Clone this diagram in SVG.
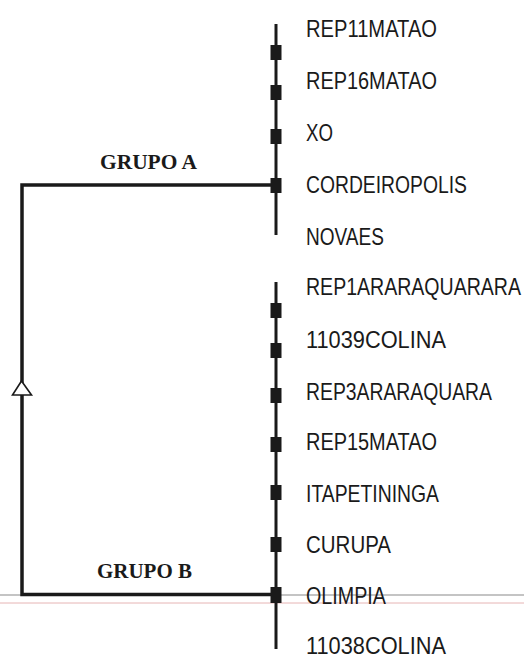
<svg xmlns="http://www.w3.org/2000/svg" width="524" height="658" viewBox="0 0 524 658">
<style>
.lbl{font-family:"Liberation Sans",Arial,sans-serif;font-size:24.5px;fill:#1a1a1a}
.grp{font-family:"Liberation Serif","Times New Roman",serif;font-size:20px;font-weight:bold;fill:#1a1a1a}
.bus{stroke:#1a1a1a;stroke-width:3;fill:none}
.wire{stroke:#1a1a1a;stroke-width:3.5;fill:none}
.sq{fill:#1a1a1a}
</style>
<rect width="524" height="658" fill="#ffffff"/>
<g id="scanlines">
<line x1="0" y1="595" x2="524" y2="595" stroke="#c4c4c4" stroke-width="2"/>
<line x1="0" y1="603" x2="524" y2="603" stroke="#e6b4b4" stroke-width="1"/>
</g>
<g id="connectors">
<polyline class="wire" points="276,185 22,185 22,594.5 276,594.5"/>
<polygon points="21.5,381 12.5,395 31.5,395" fill="#ffffff" stroke="#1a1a1a" stroke-width="1.6"/>
</g>
<g id="bus-top">
<line class="bus" x1="276" y1="24" x2="276" y2="235"/>
<rect class="sq" x="270.5" y="45" width="11" height="15"/>
<rect class="sq" x="270.5" y="85" width="11" height="15"/>
<rect class="sq" x="270.5" y="129" width="11" height="15"/>
<rect class="sq" x="270.5" y="178" width="11" height="15"/>
</g>
<g id="bus-bottom">
<line class="bus" x1="276" y1="282" x2="276" y2="649"/>
<rect class="sq" x="270.5" y="303" width="11" height="15"/>
<rect class="sq" x="270.5" y="343" width="11" height="15"/>
<rect class="sq" x="270.5" y="388" width="11" height="15"/>
<rect class="sq" x="270.5" y="437" width="11" height="15"/>
<rect class="sq" x="270.5" y="485" width="11" height="15"/>
<rect class="sq" x="270.5" y="537" width="11" height="15"/>
<rect class="sq" x="270.5" y="587" width="11" height="16"/>
</g>
<g id="grupo-a"><text class="grp" x="100" y="169" textLength="97" lengthAdjust="spacingAndGlyphs">GRUPO A</text></g>
<g id="grupo-b"><text class="grp" x="97" y="578" textLength="95" lengthAdjust="spacingAndGlyphs">GRUPO B</text></g>
<g id="n-rep11matao"><text class="lbl" x="306" y="37" textLength="131" lengthAdjust="spacingAndGlyphs">REP11MATAO</text></g>
<g id="n-rep16matao"><text class="lbl" x="306" y="89" textLength="131" lengthAdjust="spacingAndGlyphs">REP16MATAO</text></g>
<g id="n-xo"><text class="lbl" x="306" y="141" textLength="27" lengthAdjust="spacingAndGlyphs">XO</text></g>
<g id="n-cordeiropolis"><text class="lbl" x="306" y="193" textLength="161" lengthAdjust="spacingAndGlyphs">CORDEIROPOLIS</text></g>
<g id="n-novaes"><text class="lbl" x="306" y="245" textLength="78" lengthAdjust="spacingAndGlyphs">NOVAES</text></g>
<g id="n-rep1araraquarara"><text class="lbl" x="306" y="295" textLength="215" lengthAdjust="spacingAndGlyphs">REP1ARARAQUARARA</text></g>
<g id="n-11039colina"><text class="lbl" x="306" y="348" textLength="140" lengthAdjust="spacingAndGlyphs">11039COLINA</text></g>
<g id="n-rep3araraquara"><text class="lbl" x="306" y="400" textLength="186" lengthAdjust="spacingAndGlyphs">REP3ARARAQUARA</text></g>
<g id="n-rep15matao"><text class="lbl" x="306" y="450" textLength="131" lengthAdjust="spacingAndGlyphs">REP15MATAO</text></g>
<g id="n-itapetininga"><text class="lbl" x="306" y="502" textLength="133" lengthAdjust="spacingAndGlyphs">ITAPETININGA</text></g>
<g id="n-curupa"><text class="lbl" x="306" y="553" textLength="85" lengthAdjust="spacingAndGlyphs">CURUPA</text></g>
<g id="n-olimpia"><text class="lbl" x="306" y="604" textLength="80" lengthAdjust="spacingAndGlyphs">OLIMPIA</text></g>
<g id="n-11038colina"><text class="lbl" x="306" y="654" textLength="140" lengthAdjust="spacingAndGlyphs">11038COLINA</text></g>
</svg>
